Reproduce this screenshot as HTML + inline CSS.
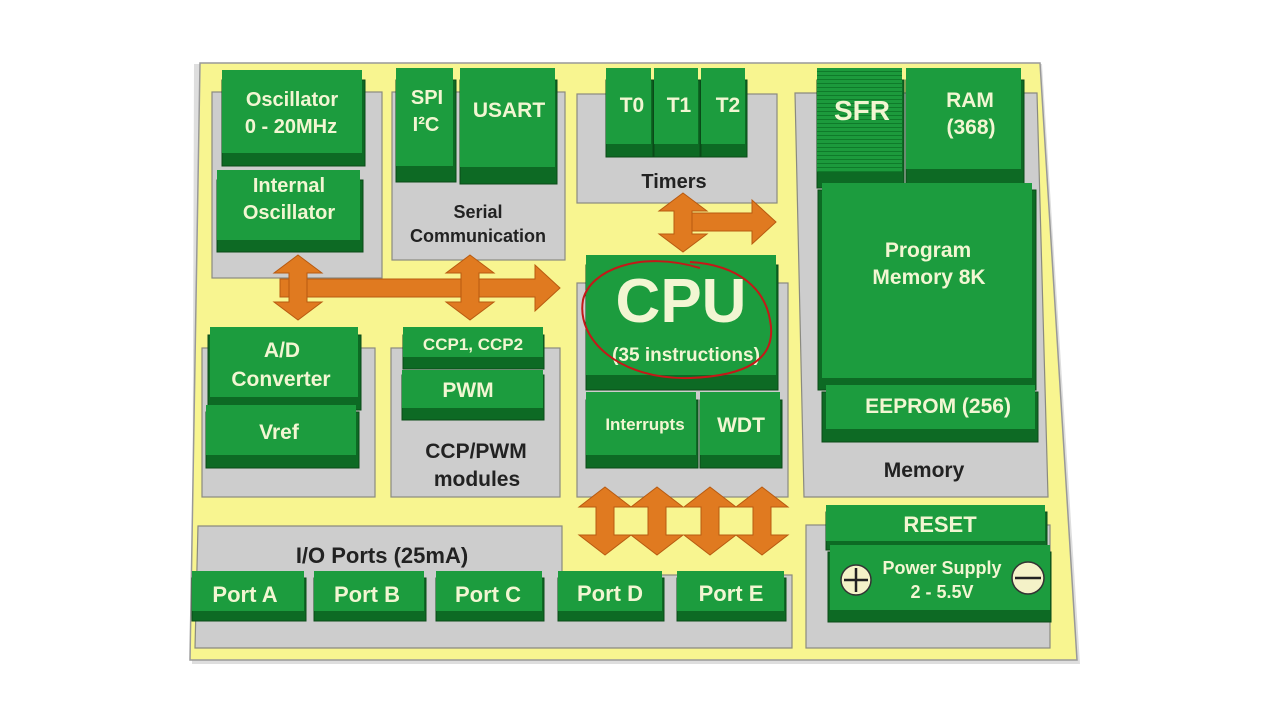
<!DOCTYPE html>
<html><head><meta charset="utf-8"><style>
html,body{margin:0;padding:0;background:#fff;width:1280px;height:720px;overflow:hidden}
svg text{font-family:"Liberation Sans",sans-serif;font-weight:bold}
.w{fill:#f2f6d2}
.k{fill:#222}
</style></head><body>
<svg width="1280" height="720" viewBox="0 0 1280 720" xmlns="http://www.w3.org/2000/svg">
<defs>
<pattern id="hatch" width="4" height="4" patternUnits="userSpaceOnUse"><rect width="4" height="4" fill="#1c9a3c"/><rect y="3" width="4" height="1" fill="#0f7a2a"/></pattern>
<path id="va" d="M0,487 L26,507 L9,507 L9,535 L26,535 L0,555 L-26,535 L-9,535 L-9,507 L-26,507Z" fill="#e07a20" stroke="#b85a10" stroke-width="1"/>
</defs>
<!-- board -->
<polygon points="194,64 1042,64 1080,664 192,664" fill="#dedede"/>
<polygon points="200,63 1040,63 1077,660 190,660" fill="#f8f590" stroke="#999" stroke-width="1.5"/>
<!-- gray panels -->
<g fill="#cdcdcd" stroke="#8a8a80" stroke-width="1.2">
<rect x="212" y="92" width="170" height="186"/>
<rect x="392" y="92" width="173" height="168"/>
<rect x="577" y="94" width="200" height="109"/>
<polygon points="795,93 1037,93 1048,497 804,497"/>
<rect x="202" y="348" width="173" height="149"/>
<rect x="391" y="348" width="169" height="149"/>
<rect x="577" y="283" width="211" height="214"/>
<polygon points="198,526 562,526 562,575 792,575 792,648 195,648"/>
<rect x="806" y="525" width="244" height="123"/>
</g>
<!-- arrows -->
<g fill="#e07a20" stroke="#b85a10" stroke-width="1">
<path d="M280,279 L535,279 L535,265 L560,288 L535,311 L535,297 L280,297Z"/>
<path d="M298,255 L322,273 L307,273 L307,302 L322,302 L298,320 L274,302 L289,302 L289,273 L274,273Z"/>
<path d="M470,255 L494,273 L479,273 L479,302 L494,302 L470,320 L446,302 L461,302 L461,273 L446,273Z"/>
<path d="M692,213 L752,213 L752,200 L776,222 L752,244 L752,231 L692,231Z"/>
<path d="M683,193 L707,211 L692,211 L692,234 L707,234 L683,252 L659,234 L674,234 L674,211 L659,211Z"/>
</g>
<use href="#va" x="605"/><use href="#va" x="657"/><use href="#va" x="710"/><use href="#va" x="762"/>
<!-- green blocks: dark base then face -->
<g fill="#0d6a24" stroke="#0a4a18" stroke-width="1">
<rect x="222" y="80" width="143" height="86"/>
<rect x="217" y="180" width="146" height="72"/>
<rect x="396" y="80" width="60" height="102"/>
<rect x="460" y="80" width="97" height="104"/>
<rect x="606" y="80" width="47" height="77"/><rect x="654" y="80" width="46" height="77"/><rect x="701" y="80" width="46" height="77"/>
<rect x="817" y="80" width="87" height="108"/>
<rect x="906" y="80" width="118" height="104"/>
<rect x="818" y="190" width="218" height="200"/>
<rect x="822" y="392" width="216" height="50"/>
<rect x="586" y="265" width="192" height="125"/>
<rect x="586" y="400" width="112" height="68"/><rect x="700" y="400" width="82" height="68"/>
<rect x="208" y="335" width="153" height="75"/>
<rect x="206" y="412" width="153" height="56"/>
<rect x="403" y="335" width="141" height="34"/>
<rect x="402" y="375" width="142" height="45"/>
<rect x="826" y="512" width="221" height="38"/>
<rect x="828" y="552" width="223" height="70"/>
<rect x="192" y="578" width="114" height="43"/><rect x="314" y="578" width="112" height="43"/><rect x="436" y="578" width="108" height="43"/><rect x="558" y="578" width="106" height="43"/><rect x="677" y="578" width="109" height="43"/>
</g>
<g fill="#1c9c3e">
<rect x="222" y="70" width="140" height="83"/>
<rect x="217" y="170" width="143" height="70"/>
<rect x="396" y="68" width="57" height="98"/>
<rect x="460" y="68" width="95" height="99"/>
<rect x="606" y="68" width="45" height="76"/><rect x="654" y="68" width="44" height="76"/><rect x="701" y="68" width="44" height="76"/>
<rect x="817" y="68" width="85" height="104" fill="url(#hatch)"/>
<rect x="906" y="68" width="115" height="101"/>
<rect x="822" y="183" width="210" height="195"/>
<rect x="826" y="385" width="209" height="44"/>
<rect x="586" y="255" width="190" height="120"/>
<rect x="586" y="392" width="110" height="63"/><rect x="700" y="392" width="80" height="63"/>
<rect x="210" y="327" width="148" height="70"/>
<rect x="206" y="405" width="150" height="50"/>
<rect x="403" y="327" width="140" height="30"/>
<rect x="402" y="370" width="141" height="38"/>
<rect x="826" y="505" width="219" height="36"/>
<rect x="830" y="545" width="220" height="65"/>
<rect x="192" y="571" width="112" height="40"/><rect x="314" y="571" width="110" height="40"/><rect x="436" y="571" width="106" height="40"/><rect x="558" y="571" width="104" height="40"/><rect x="677" y="571" width="107" height="40"/>
</g>
<!-- text -->
<g class="w" text-anchor="middle">
<text x="292" y="106" font-size="20">Oscillator</text>
<text x="291" y="133" font-size="20">0 - 20MHz</text>
<text x="289" y="192" font-size="20">Internal</text>
<text x="289" y="219" font-size="20">Oscillator</text>
<text x="427" y="104" font-size="20">SPI</text>
<text x="426" y="131" font-size="20">I²C</text>
<text x="509" y="117" font-size="21">USART</text>
<text x="632" y="112" font-size="21">T0</text>
<text x="679" y="112" font-size="21">T1</text>
<text x="728" y="112" font-size="21">T2</text>
<text x="862" y="120" font-size="28">SFR</text>
<text x="970" y="107" font-size="21">RAM</text>
<text x="971" y="134" font-size="21">(368)</text>
<text x="928" y="257" font-size="21">Program</text>
<text x="929" y="284" font-size="21">Memory 8K</text>
<text x="938" y="413" font-size="21">EEPROM (256)</text>
<text x="681" y="322" font-size="62">CPU</text>
<text x="686" y="361" font-size="19">(35 instructions)</text>
<text x="645" y="430" font-size="17">Interrupts</text>
<text x="741" y="432" font-size="21">WDT</text>
<text x="282" y="357" font-size="21">A/D</text>
<text x="281" y="386" font-size="21">Converter</text>
<text x="279" y="439" font-size="21">Vref</text>
<text x="473" y="350" font-size="17">CCP1, CCP2</text>
<text x="468" y="397" font-size="21">PWM</text>
<text x="940" y="532" font-size="22">RESET</text>
<text x="942" y="574" font-size="18">Power Supply</text>
<text x="942" y="598" font-size="18">2 - 5.5V</text>
<text x="245" y="602" font-size="22">Port A</text>
<text x="367" y="602" font-size="22">Port B</text>
<text x="488" y="602" font-size="22">Port C</text>
<text x="610" y="601" font-size="22">Port D</text>
<text x="731" y="601" font-size="22">Port E</text>
</g>
<g class="k" text-anchor="middle">
<text x="674" y="188" font-size="20">Timers</text>
<text x="478" y="218" font-size="18">Serial</text>
<text x="478" y="242" font-size="18">Communication</text>
<text x="476" y="458" font-size="21">CCP/PWM</text>
<text x="477" y="486" font-size="21">modules</text>
<text x="924" y="477" font-size="21">Memory</text>
<text x="382" y="563" font-size="22">I/O Ports (25mA)</text>
</g>
<!-- power symbols -->
<circle cx="856" cy="580" r="15" fill="#f4f2c8" stroke="#333" stroke-width="1.5"/>
<path d="M844,580 H868 M856,568 V592" stroke="#222" stroke-width="2.5"/>
<circle cx="1028" cy="578" r="16" fill="#f4f2c8" stroke="#333" stroke-width="1.5"/>
<path d="M1015,578 H1041" stroke="#222" stroke-width="2.5"/>
<!-- red ellipse -->
<path d="M700,268 C640,250 590,270 583,300 C576,340 620,380 690,378 C745,376 778,360 770,320 C765,290 740,265 690,262" fill="none" stroke="#c41818" stroke-width="2"/>
</svg>
</body></html>
